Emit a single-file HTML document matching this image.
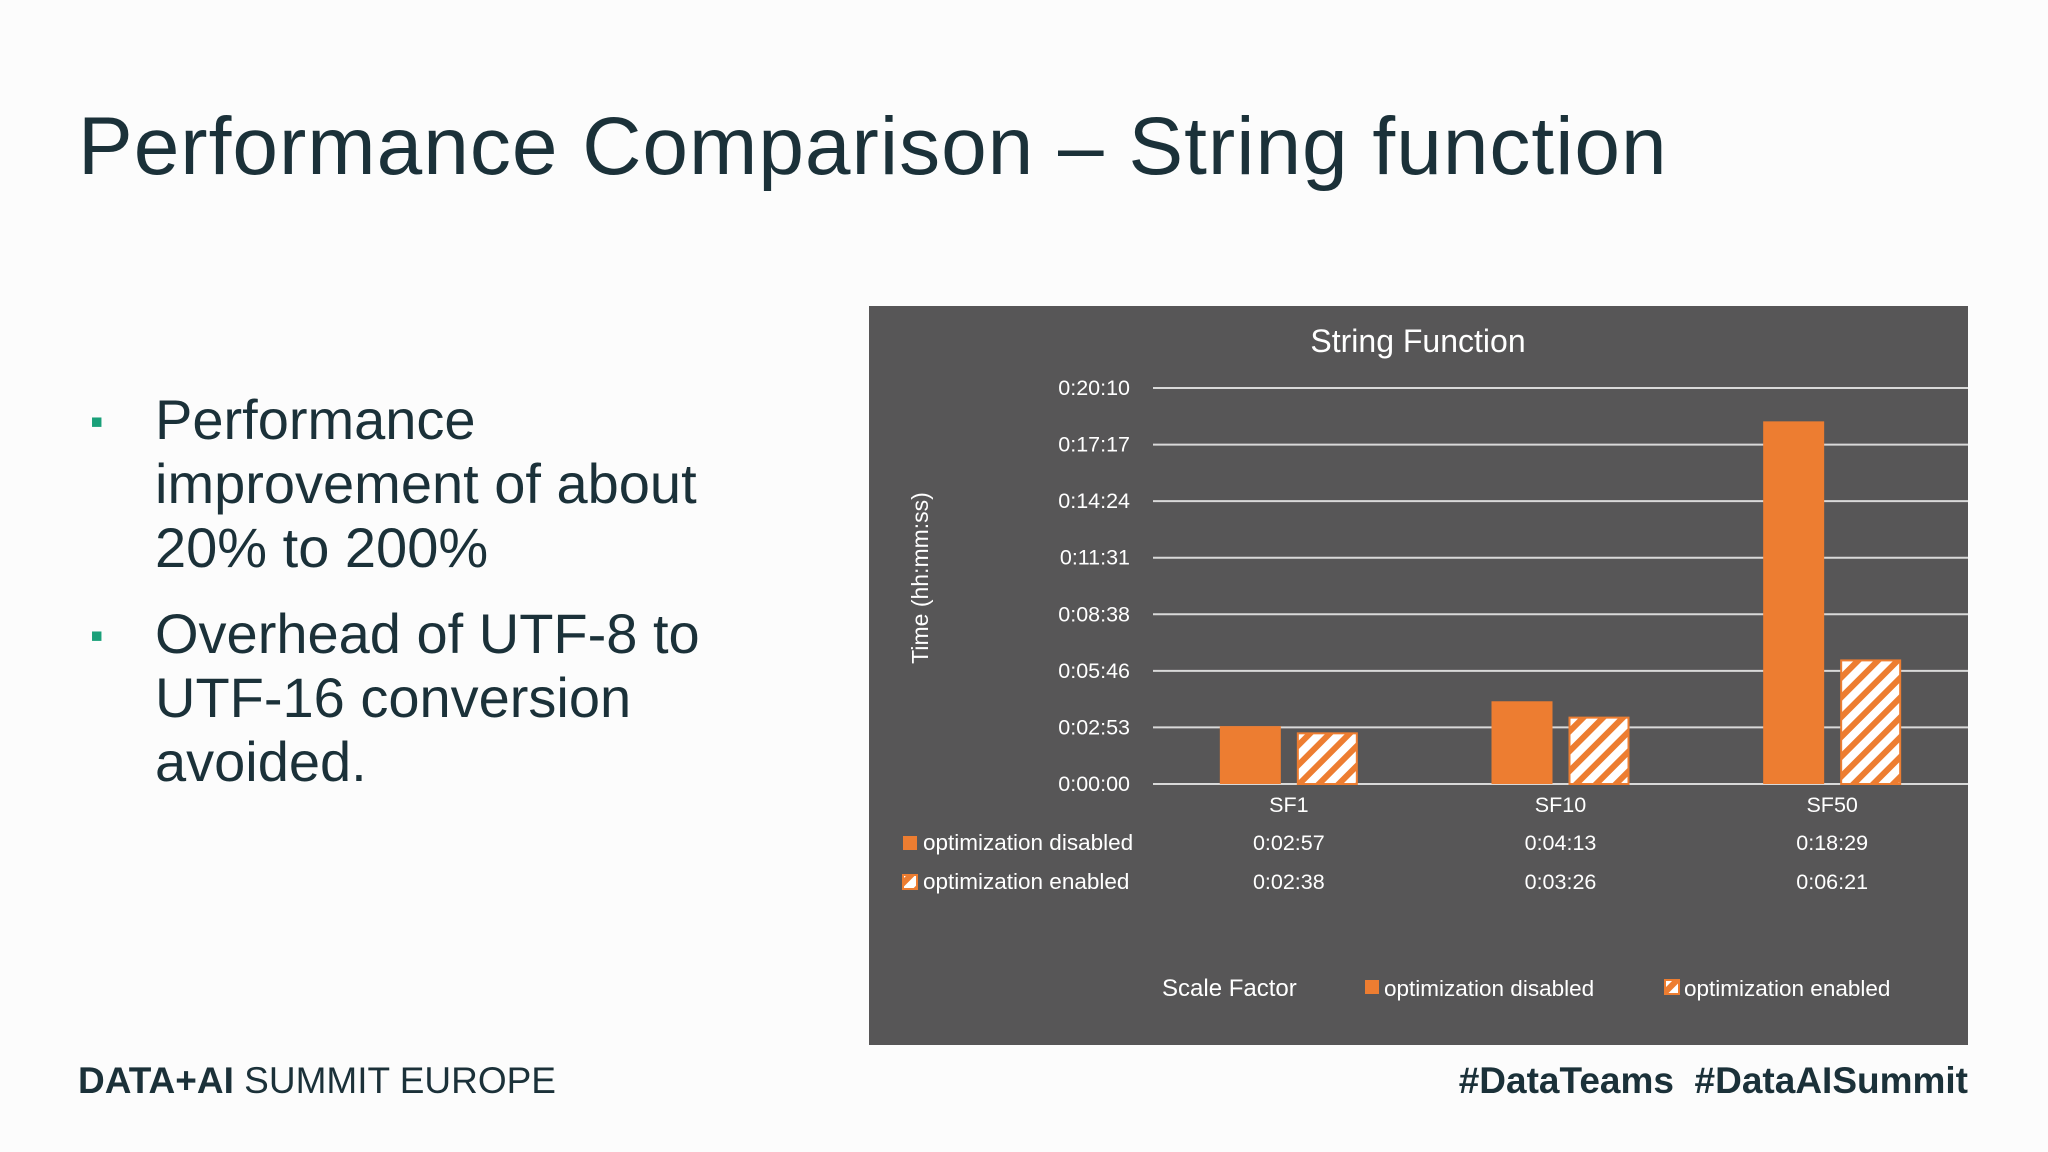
<!DOCTYPE html>
<html><head><meta charset="utf-8"><style>
html,body{margin:0;padding:0;background:#fcfcfc;}
body{width:2048px;height:1152px;position:relative;overflow:hidden;font-family:"Liberation Sans",sans-serif;color:#1b3139;}
.abs{position:absolute;white-space:nowrap;}
</style></head><body>
<div class="abs" style="left:78px;top:100px;font-size:82px;letter-spacing:1px;">Performance Comparison – String function</div>
<div class="abs" style="left:92px;top:388px;font-size:56px;line-height:64px;">
 <div style="position:relative;padding-left:63px;"><span style="position:absolute;left:-2px;top:2px;color:#1aa079;font-size:38px;">▪</span>Performance<br>improvement of about<br>20% to 200%</div>
 <div style="position:relative;padding-left:63px;margin-top:22px;"><span style="position:absolute;left:-2px;top:2px;color:#1aa079;font-size:38px;">▪</span>Overhead of UTF-8 to<br>UTF-16 conversion<br>avoided.</div>
</div>
<div class="abs" style="left:78px;top:1060px;font-size:37px;"><b>DATA+AI</b> SUMMIT EUROPE</div>
<div class="abs" style="right:80px;top:1060px;font-size:37px;font-weight:bold;">#DataTeams &nbsp;#DataAISummit</div>

<svg id="chart" class="abs" style="left:0;top:0" width="2048" height="1152">
<defs><pattern id="hatch" patternUnits="userSpaceOnUse" width="14" height="14" patternTransform="rotate(45)">
<rect width="14" height="14" fill="#fff"/><rect width="6" height="14" fill="#ed7d31"/></pattern></defs>
<rect x="869" y="306" width="1099" height="739" fill="#575657"/>
<text x="1418" y="352" fill="#fff" font-size="32" text-anchor="middle">String Function</text>
<text transform="translate(928,578) rotate(-90)" fill="#fff" font-size="23" text-anchor="middle">Time (hh:mm:ss)</text>
<g id="grid"></g><g id="bars"></g><g id="table"></g>
<text x="1162" y="996" fill="#fff" font-size="24">Scale Factor</text>
<rect x="1365" y="980" width="14" height="14" fill="#ed7d31"/>
<text x="1384" y="996" fill="#fff" font-size="22.5">optimization disabled</text>
<rect x="1665" y="980" width="14" height="14" fill="url(#hatch)" stroke="#ed7d31" stroke-width="2"/>
<text x="1684" y="996" fill="#fff" font-size="22.5">optimization enabled</text>
</svg>
<script>
const categories=["SF1","SF10","SF50"];
const disabledVals=[177,253,1109];
const enabledVals=[158,206,381];
const tickVals=[0,173,346,519,692,865,1038,1211];
const tickLabels=["0:00:00","0:02:53","0:05:46","0:08:38","0:11:31","0:14:24","0:17:17","0:20:10"];
const disabledLabels=["0:02:57","0:04:13","0:18:29"];
const enabledLabels=["0:02:38","0:03:26","0:06:21"];
const NS="http://www.w3.org/2000/svg";
const x0=1153,x1=1968,y0=784,yTop=388,maxV=1211;
const y=v=>y0-(v/maxV)*(y0-yTop);
const bw=(x1-x0)/categories.length;
const cx=i=>x0+bw*(i+0.5);
function mk(tag,attrs,parent,txt){const e=document.createElementNS(NS,tag);for(const k in attrs)e.setAttribute(k,attrs[k]);if(txt!=null)e.textContent=txt;parent.appendChild(e);return e;}
const grid=document.getElementById('grid'),bars=document.getElementById('bars'),table=document.getElementById('table');
tickVals.forEach((v,i)=>{
 const l=mk('line',{x1:x0,x2:x1,y1:y(v),y2:y(v),stroke:'#d9d9d9','stroke-width':2},grid);
 
 
 const t=mk('text',{x:1130,y:y(v)+7,fill:'#fff','font-size':21.5,'text-anchor':'end'},grid,tickLabels[i]);
 
 
});
const barW=61,gap=16;
categories.forEach((c,i)=>{
 const b1=mk('rect',{x:cx(i)-gap/2-barW,y:y(disabledVals[i]),width:barW,height:y0-y(disabledVals[i]),fill:'#ed7d31'},bars);
 
 
 const b2=mk('rect',{x:cx(i)+gap/2+1,y:y(enabledVals[i])+1,width:barW-2,height:y0-y(enabledVals[i])-1,fill:'url(#hatch)',stroke:'#ed7d31','stroke-width':2},bars);
 
 
 const t=mk('text',{x:cx(i),y:812,fill:'#fff','font-size':21.5,'text-anchor':'middle'},table,c);
 
 
 const d=mk('text',{x:cx(i),y:850,fill:'#fff','font-size':21.5,'text-anchor':'middle'},table,disabledLabels[i]);
 
 
 const e=mk('text',{x:cx(i),y:889,fill:'#fff','font-size':21.5,'text-anchor':'middle'},table,enabledLabels[i]);
 
 
});
const s1=mk('rect',{x:903,y:836,width:14,height:14,fill:'#ed7d31'},table);


const l1=mk('text',{x:923,y:850,fill:'#fff','font-size':22.5},table,'optimization disabled');


const s2=mk('rect',{x:903,y:875,width:14,height:14,fill:'url(#hatch)',stroke:'#ed7d31','stroke-width':2},table);


const l2=mk('text',{x:923,y:889,fill:'#fff','font-size':22.5},table,'optimization enabled');


</script>
</body></html>
